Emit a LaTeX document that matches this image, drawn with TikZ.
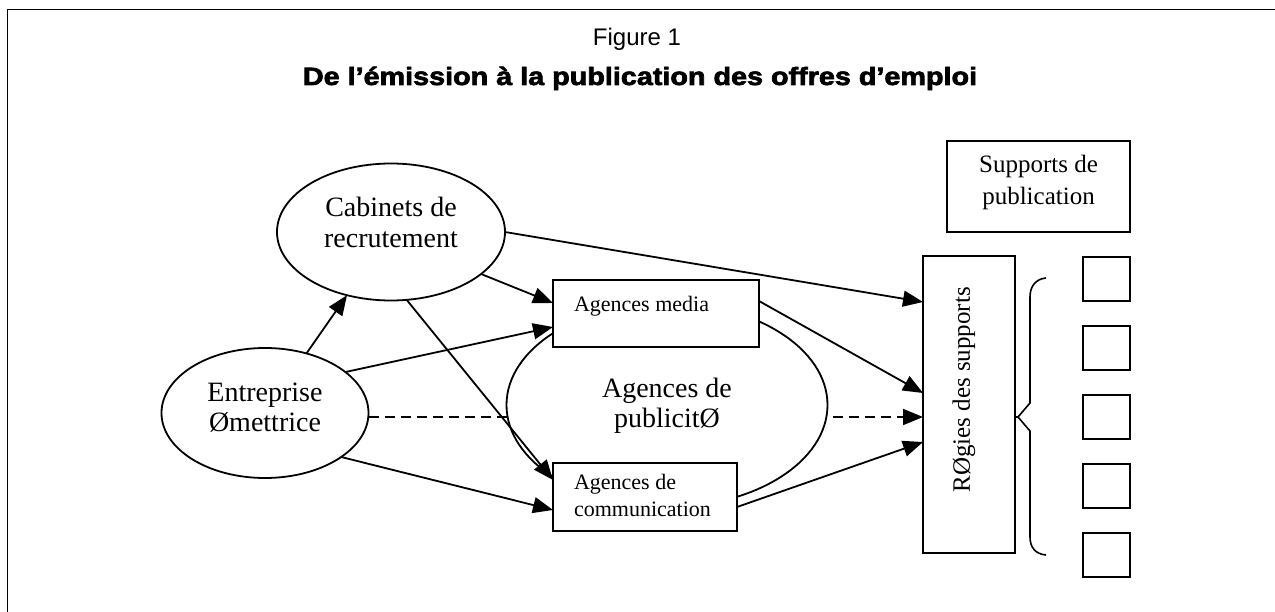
\documentclass[tikz,border=0pt]{standalone}
\usepackage{fontspec}
\usepackage{graphicx}
\setmainfont{Liberation Serif}
\newfontfamily\arialfont{Liberation Sans}
\newfontfamily\titlefont{Liberation Sans}[BoldFeatures={FakeBold=2.5}]
\usetikzlibrary{arrows.meta,shapes.geometric,backgrounds}
\newcommand{\lifted}[2]{\raisebox{#1}[\height][\depth]{#2}}
\newcommand{\stack}[2]{\lifted{#1}{\begin{tabular}{@{}c@{}}#2\end{tabular}}}
\begin{document}
\begin{tikzpicture}[x=1pt,y=-1pt,
  every node/.style={inner sep=0pt, outer sep=0pt},
  ell/.style={ellipse, draw, line width=1.8pt, fill=white, font=\fontsize{28}{31}\selectfont},
  rect/.style={rectangle, draw, line width=1.8pt, fill=white},
  conn/.style={line width=1.8pt, -{Triangle[length=20pt,width=16pt]}},
  dashconn/.style={conn, dash pattern=on 10pt off 6pt},
  bracestyle/.style={line width=1.6pt}]
\useasboundingbox (0,0) rectangle (1275,612);
\draw[line width=1.5pt] (7.5,612) -- (7.5,9.5) -- (1275,9.5);

\node[anchor=base, font=\arialfont\fontsize{24}{28}\selectfont] (fig) at (637,46) {Figure 1};
\node[anchor=base, font=\titlefont\bfseries\fontsize{25}{30}\selectfont, xscale=1.15] (title) at (640,85) {De l’émission à la publication des offres d’emploi};

\node[ell, minimum width=228pt, minimum height=137pt] (cab) at (391,232) {\stack{5.7pt}{Cabinets de\\recrutement}};
\node[ell, minimum width=207pt, minimum height=130pt] (ent) at (265,413) {\stack{2.7pt}{Entreprise\\Ømettrice}};
\node[ell, minimum width=321pt, minimum height=204pt] (pub) at (667,405) {\stack{-1.3pt}{Agences de\\publicitØ}};

\node[rect, minimum width=206pt, minimum height=67pt, font=\fontsize{22}{27}\selectfont] (media) at (656,313.5)
  {\makebox[164pt][l]{\lifted{6.9pt}{\begin{tabular}{@{}l@{}}Agences media\end{tabular}}}};
\node[rect, minimum width=184pt, minimum height=68pt, font=\fontsize{22}{27}\selectfont] (comm) at (645,497)
  {\makebox[142pt][l]{\lifted{-1pt}{\begin{tabular}{@{}l@{}}Agences de\\communication\end{tabular}}}};

\node[rect, minimum width=92pt, minimum height=297pt, font=\fontsize{25}{29}\selectfont] (regies) at (969,404.5)
  {\rotatebox{90}{\makebox[235pt][r]{\lifted{5pt}{\begin{tabular}{@{}l@{}}RØgies des supports\end{tabular}}}}};

\node[rect, minimum width=183pt, minimum height=91pt, font=\fontsize{25}{32}\selectfont] (supp) at (1038.5,186.5)
  {\stack{3.9pt}{Supports de\\publication}};

\foreach \i/\yy in {1/279,2/348,3/417,4/486,5/555}
  \node[rect, minimum width=47pt, minimum height=44pt] (sq\i) at (1106.5,\yy) {};

\draw[conn] (ent) -- (cab);
\draw[conn] (cab.-25.8) -- ([yshift=10.5pt]media.west);
\draw[conn] (ent.27.7) -- ([yshift=-13.5pt]media.west);
\draw[conn] (cab.-77.7) -- ([yshift=17pt]comm.west);
\draw[conn] (ent.-30.9) -- ([yshift=-13pt]comm.west);
\draw[conn] (cab.east) -- ([yshift=102.5pt]regies.west);
\draw[conn] ([yshift=12.5pt]media.east) -- ([yshift=11.5pt]regies.west);
\draw[conn] ([yshift=-10pt]comm.east) -- ([yshift=-37.5pt]regies.west);
\begin{pgfonlayer}{background}
\draw[dashconn] ([yshift=-4pt]ent.east) -- ([yshift=-12.5pt]regies.west);
\end{pgfonlayer}

\coordinate (bt) at ([yshift=-12.5pt]regies.east);
\draw[bracestyle] (bt) -- (1018,417) -- (1030,403) -- (1030,297) .. controls (1030,287) and (1035,279) .. (1046,278);
\draw[bracestyle] (1018,417) -- (1030,431) -- (1030,537) .. controls (1030,547) and (1035,554) .. (1046,555);
\end{tikzpicture}
\end{document}
